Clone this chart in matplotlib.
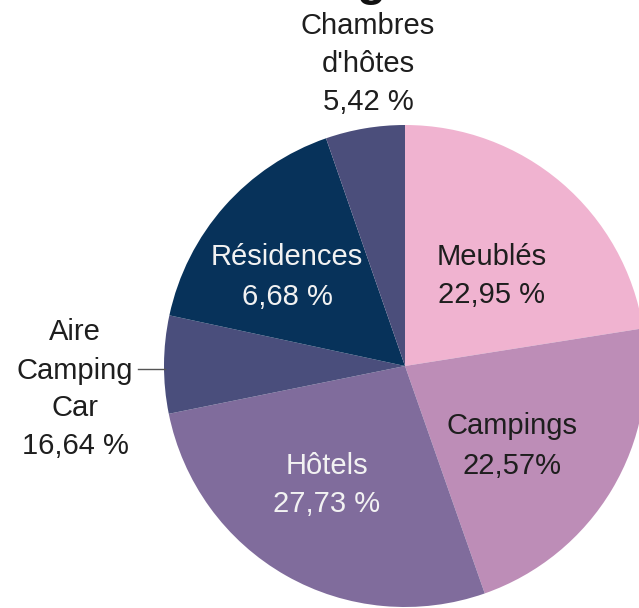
import matplotlib
matplotlib.use("Agg")
import matplotlib.pyplot as plt

# Data (wedge sizes as drawn, clockwise from 12 o'clock)
categories = ["Meublés", "Campings", "Hôtels", "Aire Camping Car", "Résidences", "Chambres d'hôtes"]
sizes = [22.95, 22.57, 27.73, 6.68, 16.64, 5.42]
colors = ["#F0B3D0", "#BD8DB7", "#806C9C", "#4A4E7C", "#07325A", "#4B4E7B"]

# Label texts as printed on the chart
label_meubles = ["Meublés", "22,95 %"]
label_campings = ["Campings", "22,57%"]
label_hotels = ["Hôtels", "27,73 %"]
label_aire = ["Aire", "Camping", "Car", "16,64 %"]
label_residences = ["Résidences", "6,68 %"]
label_chambres = ["Chambres", "d'hôtes", "5,42 %"]
title = "Hébergements"

W, H = 639, 608
fig = plt.figure(figsize=(W / 100, H / 100), dpi=100)
ax = fig.add_axes([0, 0, 1, 1])

cx, cy, r = 405, H - 366, 241
ax.pie(sizes, colors=colors, startangle=90, counterclock=False,
       center=(cx, cy), radius=r, wedgeprops=dict(linewidth=0))
ax.set_xlim(0, W)
ax.set_ylim(0, H)
ax.set_aspect("equal")
ax.axis("off")

FONT = "Liberation Sans"
FS = 21
dark = "#1e1e1e"
light = "#f2f2f2"


def lines(x, baselines, texts, color):
    for yb, t in zip(baselines, texts):
        ax.text(x, H - yb, t, ha="center", va="baseline", fontsize=FS,
                family=FONT, color=color)


lines(368, [34, 72, 110], label_chambres, dark)
lines(492, [265, 303], label_meubles, dark)
lines(287, [265, 305], label_residences, light)
lines(75, [340, 379, 416, 454], label_aire, dark)
lines(512, [434, 474], label_campings, dark)
lines(327, [474, 512], label_hotels, light)

# connector for Aire Camping Car
ax.plot([138, 165], [H - 369, H - 369], color="#555555", linewidth=1)

# title mostly cut off above the canvas
ax.text(224, H + 5, title, ha="left", va="baseline", fontsize=34,
        family=FONT, fontweight="bold", color="#111111")

fig.savefig("out.png", dpi=100)
